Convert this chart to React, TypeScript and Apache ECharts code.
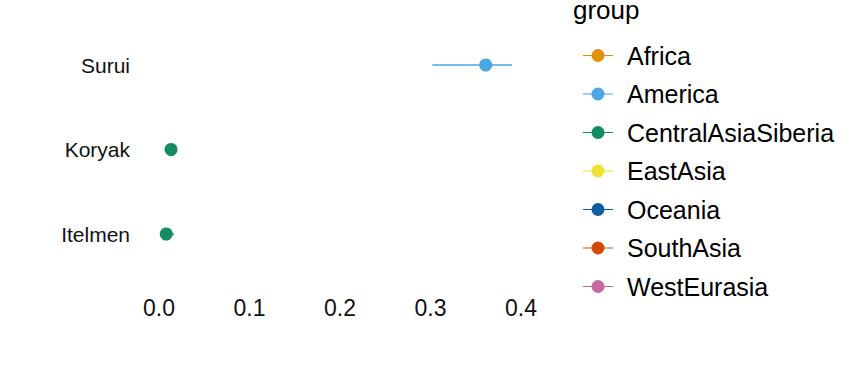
import React, { useEffect, useRef } from "react";
import * as echarts from "echarts";

const populations = ["Itelmen", "Koryak", "Surui"];
const popGroup = ["CentralAsiaSiberia", "CentralAsiaSiberia", "America"];
const estimate = [0.008, 0.0133, 0.361];
const lower = [0.003, 0.009, 0.302];
const upper = [0.0166, 0.0175, 0.39];

const groups = ["Africa", "America", "CentralAsiaSiberia", "EastAsia", "Oceania", "SouthAsia", "WestEurasia"];
const groupColors = ["#E1900A", "#4BA6E3", "#138D5F", "#EEE136", "#0E5EA0", "#CF4A04", "#C66A9E"];

const xTicks = [0, 0.1, 0.2, 0.3, 0.4];

const FONT = "'Liberation Sans', Arial, Helvetica, sans-serif";
const ICON =
  "path://M0,-0.5 L30,-0.5 L30,0.5 L0,0.5 Z M15,-6.5 A6.5,6.5 0 1,1 15,6.5 A6.5,6.5 0 1,1 15,-6.5 Z";

export default function App() {
  const ref = useRef<HTMLDivElement>(null);
  useEffect(() => {
    if (!ref.current) return;
    const chart = echarts.init(ref.current, undefined, { renderer: "svg" });

    const errData = populations.map((p, i) => [lower[i], upper[i], i, groups.indexOf(popGroup[i])]);

    const scatterSeries = groups.map((g, gi) => ({
      name: g,
      type: "scatter",
      symbol: "circle",
      symbolSize: 13,
      itemStyle: { color: groupColors[gi], opacity: 1 },
      z: 3,
      data: populations
        .map((p, i) => (popGroup[i] === g ? [estimate[i], p] : null))
        .filter((d) => d !== null),
    }));

    chart.setOption({
      animation: false,
      textStyle: { fontFamily: FONT },
      grid: { left: 159, right: 343, top: 22.75, bottom: 107.75, containLabel: false },
      xAxis: {
        type: "value",
        min: xTicks[0],
        max: xTicks[xTicks.length - 1],
        interval: 0.1,
        axisLine: { show: false },
        axisTick: { show: false },
        splitLine: { show: false },
        axisLabel: {
          margin: 20,
          fontSize: 23,
          color: "#111",
          fontFamily: FONT,
          formatter: (v: number) => v.toFixed(1),
        },
      },
      yAxis: {
        type: "category",
        data: populations,
        boundaryGap: true,
        axisLine: { show: false },
        axisTick: { show: false },
        splitLine: { show: false },
        axisLabel: { margin: 29, fontSize: 21, color: "#111", fontFamily: FONT },
      },
      legend: {
        data: groups.map((g) => ({ name: g, icon: ICON })),
        orient: "vertical",
        left: 578,
        top: 38,
        itemWidth: 30,
        itemHeight: 13,
        itemGap: 13.5,
        selectedMode: false,
        textStyle: { fontSize: 25, color: "#000", fontFamily: FONT, lineHeight: 25, padding: [0, 0, 0, 9] },
      },
      graphic: [
        {
          type: "text",
          left: 573,
          top: -3,
          style: { text: "group", fontSize: 26, fill: "#000", fontFamily: FONT },
        },
      ],
      series: [
        {
          name: "errorbars",
          type: "custom",
          z: 2,
          data: errData,
          renderItem: (params: any, api: any) => {
            const p1 = api.coord([api.value(0), api.value(2)]);
            const p2 = api.coord([api.value(1), api.value(2)]);
            const c = groupColors[api.value(3)];
            return {
              type: "line",
              shape: { x1: p1[0], y1: p1[1], x2: p2[0], y2: p2[1] },
              style: { stroke: c, lineWidth: 1.5 },
            };
          },
        },
        ...scatterSeries,
      ],
    });
    return () => chart.dispose();
  }, []);
  return (
    <div
      ref={ref}
      style={{ position: "fixed", left: 0, top: 0, width: 864, height: 384, background: "#fff" }}
    />
  );
}
